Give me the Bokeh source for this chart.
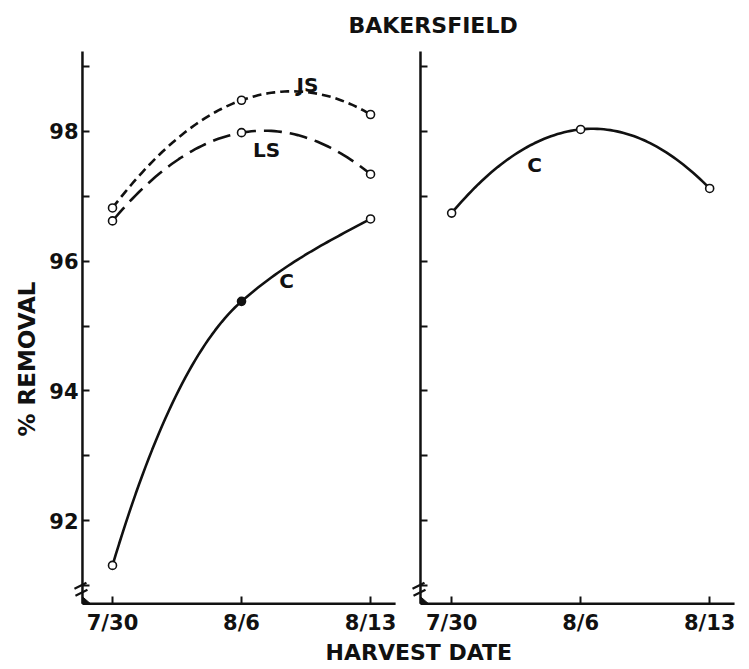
import numpy as np
from bokeh.plotting import figure
from bokeh.models import LinearAxis, FixedTicker, Label, Range1d, Title
from bokeh.embed import file_html
from bokeh.resources import INLINE

# ---------------- data ----------------
dates = ["7/30", "8/6", "8/13"]
days = [0, 7, 14]                      # days after 7/30
js_left = [96.82, 98.48, 98.26]        # JS, left panel
ls_left = [96.62, 97.98, 97.34]        # LS, left panel
c_left = [91.31, 95.38, 96.65]         # C, left panel
c_right = [96.74, 98.03, 97.12]        # C, right panel
# slopes of the drawn curves at each point (% per day)
js_slope = [0.37, 0.10, -0.17]
ls_slope = [0.34, 0.05, -0.23]
c_left_slope = [0.95, 0.25, 0.15]
c_right_slope = [0.34, 0.03, -0.29]
y_ticks = [91, 92, 93, 94, 95, 96, 97, 98, 99]
y_tick_labels = ["", "92", "", "94", "", "96", "", "98", ""]
title_text = "BAKERSFIELD"
x_label = "HARVEST DATE"
y_label = "% REMOVAL"

# ---------------- layout constants ----------------
PX_DAY = 18.43      # pixels per day
PX_UNIT = 65.0      # pixels per % unit
OFF = 18.4          # x offset (days) of right panel
X0, X1 = -2.279, 33.91
Y0, Y1 = 90.692, 99.262
YBASE = 90.72       # x-axis position
YTOP = 99.23        # top of y axes
AX_L = -1.63        # left y-axis position
AX_R = 16.71        # right y-axis position
END_L = 15.36       # end of left x axis
END_R = 33.75       # end of right x axis

FONT = "DejaVu Sans"
INK = "#111111"

p = figure(width=747, height=669, x_range=Range1d(X0, X1), y_range=Range1d(Y0, Y1),
           x_axis_type=None, y_axis_type=None, output_backend="svg",
           toolbar_location=None, min_border_left=70, min_border_right=10,
           min_border_top=48, min_border_bottom=64)
p.outline_line_color = None
p.background_fill_color = "white"
p.border_fill_color = "white"

TXT = dict(major_label_text_font=FONT, major_label_text_font_style="bold",
           major_label_text_font_size="21px", major_label_text_color=INK)
TICKONLY = dict(axis_line_color=None, major_tick_in=7, major_tick_out=0,
                major_tick_line_width=2, major_tick_line_color=INK,
                minor_tick_line_color=None, major_label_text_font_size="1px")
LABELONLY = dict(axis_line_color=None, major_tick_in=0, major_tick_out=0,
                 major_tick_line_color=None, minor_tick_line_color=None)

# y axis: labels
p.add_layout(LinearAxis(ticker=FixedTicker(ticks=y_ticks),
                        major_label_overrides=dict(zip(y_ticks, y_tick_labels)),
                        major_label_standoff=-8, **LABELONLY, **TXT), "left")
# y axes: ticks of both panels
for loc in (AX_L, AX_R):
    p.add_layout(LinearAxis(fixed_location=loc, ticker=FixedTicker(ticks=y_ticks),
                            major_label_overrides={t: "" for t in y_ticks},
                            major_label_standoff=5, **TICKONLY), "left")

# x axis: labels and ticks
x_ticks = days + [d + OFF for d in days]
x_labels = {t: lab for t, lab in zip(x_ticks, dates + dates)}
p.add_layout(LinearAxis(ticker=FixedTicker(ticks=x_ticks), major_label_overrides=x_labels,
                        major_label_standoff=5, **LABELONLY, **TXT), "below")
p.add_layout(LinearAxis(fixed_location=YBASE, ticker=FixedTicker(ticks=x_ticks),
                        major_label_overrides={t: "" for t in x_ticks},
                        major_label_standoff=10, **TICKONLY), "below")

# titles
TFONT = dict(text_font=FONT, text_font_style="bold", text_color=INK, align="left")
p.add_layout(Title(text=title_text, offset=278, standoff=22, vertical_align="middle",
                   text_font_size="22px", **TFONT), "above")
p.add_layout(Title(text=x_label, offset=255, standoff=0, text_font_size="22px", **TFONT), "below")
p.add_layout(Title(text=y_label, offset=169, standoff=14, text_font_size="23px", **TFONT), "left")

# axis lines
p.segment(x0=[AX_L, AX_L, AX_R, AX_R], y0=[YBASE, YBASE, YBASE, YBASE],
          x1=[AX_L, END_L, AX_R, END_R], y1=[YTOP, YBASE, YTOP, YBASE],
          line_color=INK, line_width=2.5)

# axis break marks
for ax in (AX_L, AX_R):
    def pt(dx, dy):
        return ax + dx / PX_DAY, YBASE - dy / PX_UNIT
    a0, a1 = pt(-8, -15), pt(4, -21)
    b0, b1 = pt(-7, -8), pt(5, -14)
    p.segment(x0=[a0[0], b0[0]], y0=[a0[1], b0[1]], x1=[a1[0], b1[0]], y1=[a1[1], b1[1]],
              line_color=INK, line_width=2.2)
    t = [pt(0, -7), pt(0, 0), pt(8, 0)]
    p.patch([q[0] for q in t], [q[1] for q in t], fill_color=INK, line_color=INK)

# smooth curves (cubic Hermite through the points)
def curve(xs, ys, ms, dash, width=2.6):
    xx_all, yy_all = [], []
    for i in range(len(xs) - 1):
        h = xs[i + 1] - xs[i]
        s = np.linspace(0, 1, 40)
        h00 = 2 * s**3 - 3 * s**2 + 1
        h10 = s**3 - 2 * s**2 + s
        h01 = -2 * s**3 + 3 * s**2
        h11 = s**3 - s**2
        yy = h00 * ys[i] + h10 * h * ms[i] + h01 * ys[i + 1] + h11 * h * ms[i + 1]
        xx_all.extend(list(xs[i] + s * h))
        yy_all.extend(list(yy))
    p.line(xx_all, yy_all, line_color=INK, line_width=width, line_dash=dash)

right_days = [d + OFF for d in days]
curve(days, js_left, js_slope, "9 5")
curve(days, ls_left, ls_slope, "18 8")
curve(days, c_left, c_left_slope, "solid")
curve(right_days, c_right, c_right_slope, "solid")

def markers(xs, ys, fills):
    p.scatter(xs, ys, marker="circle", size=8, fill_color=fills,
              line_color=INK, line_width=1.6)

markers(days, js_left, ["white"] * 3)
markers(days, ls_left, ["white"] * 3)
markers(days, c_left, ["white", INK, "white"])
markers(right_days, c_right, ["white"] * 3)

# curve labels
def lab(x, y, text):
    p.add_layout(Label(x=x, y=y, text=text, text_font=FONT, text_font_style="bold",
                       text_font_size="20px", text_color=INK, text_align="center",
                       text_baseline="middle"))

lab(10.58, 98.72, "JS")
lab(8.36, 97.71, "LS")
lab(9.44, 95.69, "C")
lab(22.9, 97.48, "C")

open("out.html", "w").write(file_html(p, INLINE))
